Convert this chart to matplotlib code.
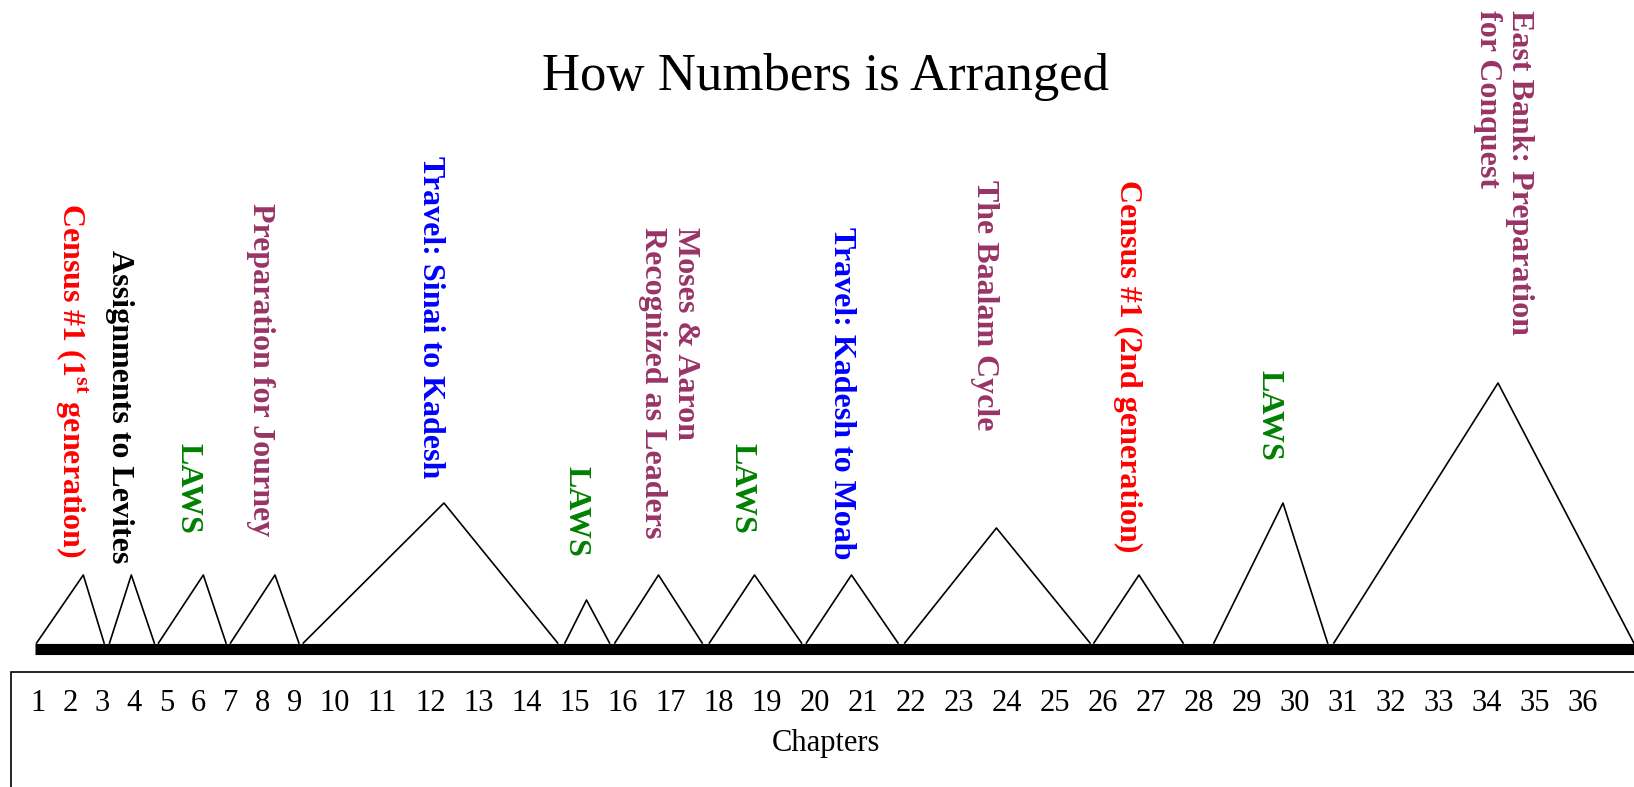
import numpy as np
import matplotlib.pyplot as plt
from matplotlib.patches import Rectangle

plt.rcParams['font.family'] = ['Liberation Serif', 'DejaVu Serif']
plt.rcParams['mathtext.fontset'] = 'custom'
plt.rcParams['mathtext.rm'] = 'Liberation Serif:bold'
plt.rcParams['mathtext.bf'] = 'Liberation Serif:bold'

chapters = list(range(1, 37))

# one triangle per section: start, peak and end (in chapters), height
sec_start = [0.94, 3.22, 4.75, 7.00, 9.22, 14.80, 15.84, 17.81, 19.83, 21.88, 25.82, 28.32, 30.82]
sec_peak = [2.40, 3.90, 6.15, 8.39, 12.28, 15.25, 16.75, 18.75, 20.77, 23.79, 26.76, 29.76, 34.24]
sec_end = [3.05, 4.62, 6.86, 9.11, 14.65, 15.73, 17.66, 19.73, 21.74, 25.74, 27.68, 30.69, 37.07]
sec_height = [68, 68, 68, 68, 140, 43, 68, 68, 68, 115, 68, 140, 260]

labels = [r"Census #1 (1$^{\mathrm{st}}$ generation)", "Assignments to Levites", "LAWS",
          "Preparation for Journey", "Travel: Sinai to Kadesh", "LAWS",
          "Moses & Aaron\nRecognized as Leaders", "LAWS", "Travel: Kadesh to Moab",
          "The Baalam Cycle", "Census #1 (2nd generation)", "LAWS",
          "East Bank: Preparation\nfor Conquest"]
label_ch = [2.01, 3.54, 5.66, 7.94, 12.0, 15.04, 16.97, 18.49, 20.57, 23.55, 26.52, 29.47, 34.36]
label_top = [440, 393, 200, 440, 487, 177, 416, 200, 416, 463, 463, 273, 633]
purple = '#993366'
label_color = ['red', 'black', 'green', purple, 'blue', 'green', purple, 'green',
               'blue', purple, 'red', 'green', purple]


# chapter numbers are laid out like a line of text "1  2  3 ...",
# so the x scale follows the width of each number (in em)
def em_positions(nums):
    w = np.array([0.5 * len(str(n)) for n in nums])
    steps = w[:-1] / 2 + 0.5 + w[1:] / 2
    return np.concatenate([[0], np.cumsum(steps)])


nodes = np.arange(-1, 39)
em = np.concatenate([[-2.0, -1.0], em_positions(range(1, 39))])
px = 38.5 + 32 * em


def fwd(x):
    return np.interp(x, nodes, px)


def inv(x):
    return np.interp(x, px, nodes)


fig = plt.figure(figsize=(16.34, 7.87), dpi=100)
ax = fig.add_axes([0, 0, 1, 1])
ax.set_xscale('function', functions=(fwd, inv))
ax.set_xlim(inv(0), inv(1634))
ax.set_ylim(-144, 643)
ax.axis('off')

# baseline
ax.plot([0.88, 38], [-5.5, -5.5], color='black', lw=8, solid_capstyle='butt')

for s, p, e, h in zip(sec_start, sec_peak, sec_end, sec_height):
    ax.plot([s, p, e], [0, h, 0], color='black', lw=1.2)

for t, x, y, c in zip(labels, label_ch, label_top, label_color):
    ax.text(x, y, t, rotation=270, ha='center', va='top', multialignment='left',
            color=c, fontsize=23, fontweight='bold', linespacing=1.15)

for ch in chapters:
    ax.text(ch, -68, str(ch), ha='center', va='baseline', fontsize=22)
ax.text(inv(826), -108, "Chapters", ha='center', va='baseline', fontsize=22)

ax.add_patch(Rectangle((11 / 1634, -0.05), 1.1, (787 - 672) / 787 + 0.05,
                       transform=ax.transAxes, fill=False, lw=1.2, clip_on=False))

fig.text(0.5055, 0.886, "How Numbers is Arranged", ha='center', va='baseline', fontsize=38)

fig.savefig('out.png', dpi=100)
